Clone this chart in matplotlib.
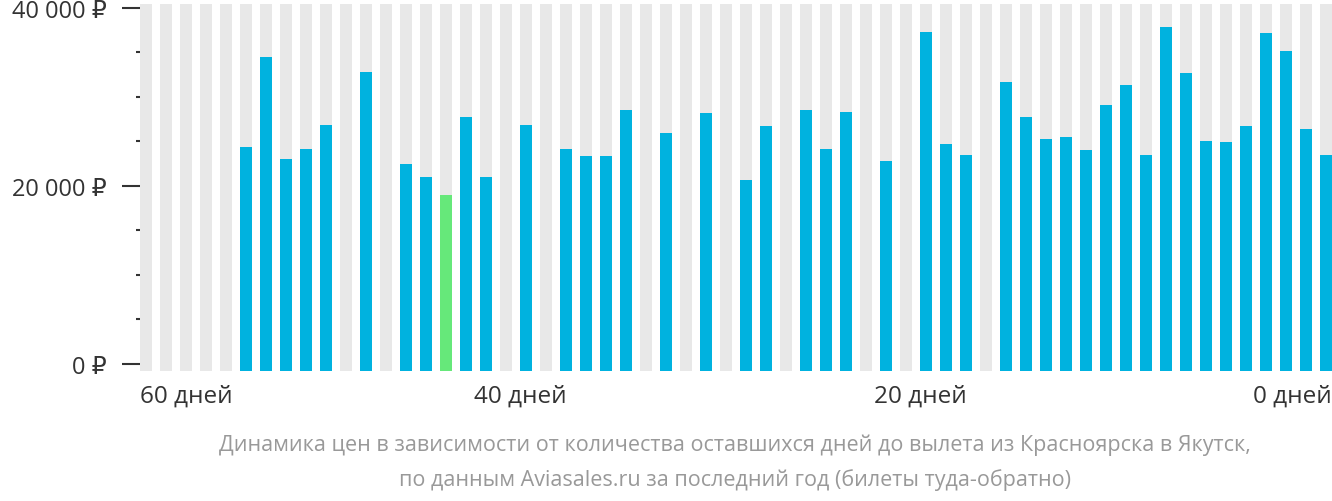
import matplotlib
matplotlib.use("Agg")
import matplotlib.pyplot as plt
import numpy as np

plt.rcParams["font.family"] = ["Open Sans", "DejaVu Sans"]

# price per slot (None = no data), left = 60 days before departure, right = 0 days
prices = [None, None, None, None, None, 24300, 34500, 23000, 24100, 26800,
          None, 32800, None, 22400, 21000, 19000, 27700, 21000, None, 26800,
          None, 24100, 23300, 23300, 28500, None, 25900, None, 28200, None,
          20600, 26700, None, 28500, 24100, 28300, None, 22800, None, 37300,
          24700, 23400, None, 31600, 27700, 25200, 25500, 24000, 29100, 31300,
          23400, 37800, 32600, 25000, 24900, 26700, 37100, 35100, 26400, 23500]
cheapest = 15
ytick_vals = [0, 20000, 40000]
ytick_labels = ["0 ₽", "20 000 ₽", "40 000 ₽"]
xtick_pos = [-0.3, 18.7, 38.7, 59.3]
xtick_labels = ["60 дней", "40 дней", "20 дней", "0 дней"]
caption = ("Динамика цен в зависимости от количества оставшихся дней до вылета из Красноярска в Якутск,\n"
           "по данным Aviasales.ru за последний год (билеты туда-обратно)")

fig = plt.figure(figsize=(13.32, 5.02), dpi=100)
ax = fig.add_axes([0.105, 0.259, 0.895, 0.731])
ymin, ymax = -800, 40400
x = np.arange(len(prices))
ax.bar(x, [ymax - ymin] * len(prices), bottom=ymin, width=0.6, color="#e8e8e8")
vals = [p - ymin if p is not None else 0 for p in prices]
colors = ["#66e87a" if i == cheapest else "#00b2df" for i in x]
ax.bar(x, vals, bottom=ymin, width=0.6, color=colors)

ax.set_xlim(-0.3, 59.3)
ax.set_ylim(ymin, ymax)
for s in ax.spines.values():
    s.set_visible(False)
ax.set_yticks(ytick_vals, ytick_labels, fontsize=17, color="#333333")
ax.set_yticks(np.arange(0, 40001, 5000), minor=True)
ax.tick_params(axis="y", which="major", length=13, width=1.5, color="#333333", pad=11)
ax.tick_params(axis="y", which="minor", length=3, width=1.5, color="#333333", pad=0)
ax.set_xticks(xtick_pos, xtick_labels, fontsize=17.5, color="#333333")
ax.tick_params(axis="x", length=0, pad=9)
for lbl, ha in zip(ax.get_xticklabels(), ["left", "center", "center", "right"]):
    lbl.set_ha(ha)

fig.text(0.552, 0.078, caption, ha="center", va="center", fontsize=15.5,
         color="#999999", linespacing=1.75)
fig.savefig("out.png", dpi=100)
